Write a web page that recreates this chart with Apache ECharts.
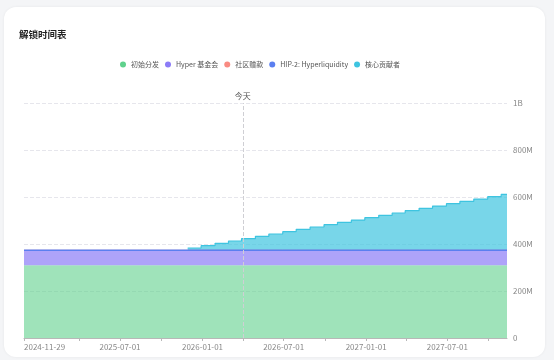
<!DOCTYPE html>
<html>
<head>
<meta charset="utf-8">
<script src="https://cdn.jsdelivr.net/npm/echarts@6/dist/echarts.min.js"></script>
<style>
  html, body { margin: 0; padding: 0; background: #f4f5f7; }
  .card { position: absolute; left: 4px; top: 7px; width: 541px; height: 350px; background: #fff; border-radius: 12px; box-shadow: 0 0 3px rgba(0,0,0,0.06); }
  #main { position: absolute; left: 0; top: 0; width: 554px; height: 360px; }
</style>
</head>
<body>
<div class="card"></div>
<div id="main"></div>
<script>
// x positions of the series (unlock dates)
var startDate = '2024-11-29'
var endDate = '2027-11-11'
var today = '2026-04-01'
var vestDates = [
  '2025-11-29', '2025-12-29', '2026-01-29', '2026-02-28', '2026-03-29', '2026-04-29',
  '2026-05-29', '2026-06-29', '2026-07-29', '2026-08-29', '2026-09-29', '2026-10-29',
  '2026-11-29', '2026-12-29', '2027-01-29', '2027-02-28', '2027-03-29', '2027-04-29',
  '2027-05-29', '2027-06-29', '2027-07-29', '2027-08-29', '2027-09-29', '2027-10-29'
]
// cumulative core contributor unlocks (M)
var coreValues = [
  9.9, 19.8, 29.8, 39.7, 49.6, 59.5, 69.4, 79.4, 89.3, 99.2, 109.1, 119.0,
  128.9, 138.8, 148.8, 158.7, 168.6, 178.5, 188.4, 198.3, 208.3, 218.2, 228.1, 238.0
]
// constant allocations (M)
var genesis = 310
var foundation = 60
var grants = 3
var hip2 = 0.12

var names = ['初始分发', 'Hyper 基金会', '社区赠款', 'HIP-2: Hyperliquidity', '核心贡献者']
var colors = ['#5fd18c', '#8c7cf7', '#f98b82', '#5b7ff0', '#3ec4e0']
var tickDates = ['2024-11-29', '2025-04-01', '2025-07-01', '2025-10-01', '2026-01-01', '2026-04-01',
  '2026-07-01', '2026-10-01', '2027-01-01', '2027-04-01', '2027-07-01', '2027-10-01']
var labelDates = ['2024-11-29', '2025-07-01', '2026-01-01', '2026-07-01', '2027-01-01', '2027-07-01']

function ts (d) { return echarts.time.parse(d).getTime() }

var allDates = [startDate].concat(vestDates).concat([endDate])
function constData (v) { return allDates.map(function (d) { return [d, v] }) }
var coreData = [[startDate, null]]
vestDates.forEach(function (d, i) { coreData.push([d, coreValues[i]]) })
coreData.push([endDate, coreValues[coreValues.length - 1]])

var font = '"Noto Sans CJK SC", "Noto Sans", sans-serif'
var chart = echarts.init(document.getElementById('main'))

function areaSeries (i, data, opacity, lineWidth) {
  return {
    name: names[i],
    type: 'line',
    xAxisIndex: 0,
    stack: 'total',
    step: 'end',
    showSymbol: false,
    symbol: 'none',
    data: data,
    itemStyle: { color: colors[i] },
    lineStyle: { width: lineWidth, color: colors[i] },
    areaStyle: { color: colors[i], opacity: opacity }
  }
}

var series = [
  areaSeries(0, constData(genesis), 0.6, 0),
  areaSeries(1, constData(foundation), 0.7, 0),
  areaSeries(2, constData(grants), 0.7, 1),
  areaSeries(3, constData(hip2), 0.7, 1.5),
  areaSeries(4, coreData, 0.7, 1.2)
]
series[4].markLine = {
  silent: true,
  symbol: 'none',
  data: [{ xAxis: today }],
  lineStyle: { type: 'dashed', color: '#cfcfd4', width: 1 },
  label: { show: true, position: 'end', formatter: '今天', color: '#555', fontSize: 8, fontFamily: font, distance: 3 }
}

var option = {
  animation: false,
  textStyle: { fontFamily: font },
  title: {
    text: '解锁时间表',
    left: 14,
    top: 25,
    textStyle: { fontSize: 9.5, fontWeight: 'bold', color: '#222', fontFamily: font }
  },
  legend: {
    left: 115,
    top: 56,
    icon: 'circle',
    itemWidth: 6,
    itemHeight: 6,
    itemGap: 6,
    textStyle: { fontSize: 7, color: '#555', fontFamily: font },
    data: names
  },
  grid: { left: 24, right: 47, top: 103, bottom: 22 },
  xAxis: [{
    // data axis
    type: 'time',
    min: startDate,
    max: endDate,
    axisLine: { show: false },
    axisTick: { show: false },
    axisLabel: { show: false },
    splitLine: { show: false }
  }, {
    // decoration axis with fixed tick dates
    type: 'value',
    position: 'bottom',
    min: ts(startDate),
    max: ts(endDate),
    axisLine: { show: true, lineStyle: { color: '#b8b8b8' } },
    axisTick: { show: true, length: 3, customValues: tickDates.map(ts), lineStyle: { color: '#b8b8b8' } },
    axisLabel: {
      customValues: labelDates.map(ts),
      formatter: function (v) { return echarts.time.format(v, '{yyyy}-{MM}-{dd}', false) },
      color: '#888',
      fontSize: 8,
      margin: 5,
      alignMinLabel: 'left',
      showMinLabel: true
    },
    splitLine: { show: false }
  }],
  yAxis: {
    type: 'value',
    position: 'right',
    min: 0,
    max: 1000,
    interval: 200,
    axisLine: { show: false },
    axisTick: { show: false },
    axisLabel: {
      color: '#888',
      fontSize: 8,
      margin: 6,
      formatter: function (v) { return v === 0 ? '0' : (v >= 1000 ? v / 1000 + 'B' : v + 'M') }
    },
    splitLine: { lineStyle: { type: 'dashed', color: '#e6e6ec' } }
  },
  series: series
}
chart.setOption(option)
</script>
</body>
</html>
